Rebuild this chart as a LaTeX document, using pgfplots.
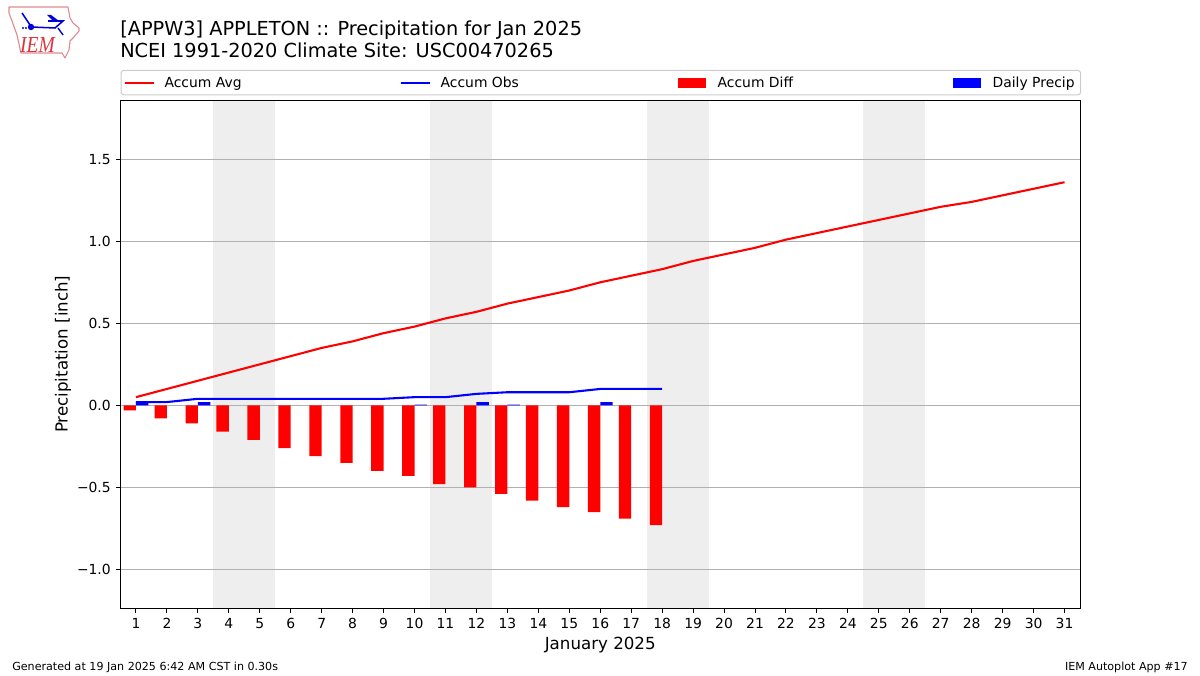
\documentclass[border=0pt]{standalone}
\usepackage{pgfplots}
\pgfplotsset{compat=1.18}
\usepackage{fontspec}
\setmainfont{DejaVu Sans}
\newfontfamily\logofont{Liberation Serif}
\definecolor{span}{HTML}{EEEEEE}
\definecolor{gridc}{HTML}{B0B0B0}
\definecolor{legc}{HTML}{CCCCCC}
\definecolor{logored}{HTML}{D9363E}
\definecolor{logopink}{HTML}{E08A8E}
\newlength{\px}\setlength{\px}{0.72bp}
\newcommand{\legtext}[3]{\makebox[#1\px][l]{\hspace*{#2\px}\raisebox{-1\px}[\height][\depth]{#3}}}
\begin{document}
\begin{tikzpicture}[x=0.72bp,y=0.72bp]
\path (0,0) rectangle (1200,675);
\begin{axis}[
  at={(120.5\px,67\px)}, anchor=south west,
  scale only axis, width=959.5\px, height=507.5\px,
  set layers=standard,
  xmin=0.5, xmax=31.5, ymin=-1.235, ymax=1.858,
  xtick={1,...,31},
  xticklabels={1,2,3,4,5,6,7,8,9,10,11,12,13,14,15,16,17,18,19,20,21,22,23,24,25,26,27,28,29,30,31},
  ytick={-1,-0.5,0,0.5,1,1.5},
  yticklabels={−1.0,−0.5,0.0,0.5,1.0,1.5},
  ymajorgrids,
  grid style={gridc, line width=0.72bp},
  tick align=outside, tick pos=left,
  major tick length=3.5bp,
  every tick/.style={black, line width=0.72bp},
  axis line style={black, line width=0.72bp},
  tick label style={font=\fontsize{10bp}{12bp}\selectfont},
  xticklabel style={yshift=-0.5\px},
  xlabel={January 2025},
  ylabel={Precipitation [inch]},
  label style={font=\fontsize{12bp}{14bp}\selectfont},
  xlabel style={at={(0.5,0)}, anchor=base, yshift=-41\px},
  ylabel style={at={(0,0.5)}, anchor=base, yshift=53\px},
  legend columns=4,
  legend style={
    at={(0,1)}, anchor=south west, yshift=5\px,
    draw=legc, line width=0.72bp, rounded corners=3\px,
    inner xsep=2.5\px, inner ysep=6\px,
    font=\fontsize{10bp}{12bp}\selectfont,
    nodes={inner sep=0pt, anchor=west},
    /tikz/column sep=0pt,
  },
]
% weekend bands
\addplot[fill=span, draw=none, forget plot, on layer=axis background] coordinates {(3.5,-1.235)(5.5,-1.235)(5.5,1.858)(3.5,1.858)} -- cycle;
\addplot[fill=span, draw=none, forget plot, on layer=axis background] coordinates {(10.5,-1.235)(12.5,-1.235)(12.5,1.858)(10.5,1.858)} -- cycle;
\addplot[fill=span, draw=none, forget plot, on layer=axis background] coordinates {(17.5,-1.235)(19.5,-1.235)(19.5,1.858)(17.5,1.858)} -- cycle;
\addplot[fill=span, draw=none, forget plot, on layer=axis background] coordinates {(24.5,-1.235)(26.5,-1.235)(26.5,1.858)(24.5,1.858)} -- cycle;
% Accum Avg
\addplot[red, line width=1.5bp, no marks, line join=round,
  legend image code/.code={\draw[red, line width=1.5bp] (0pt,0pt) -- (29\px,0pt);}]
 coordinates {(1,0.05)(2,0.10)(3,0.15)(4,0.20)(5,0.25)(6,0.30)(7,0.35)(8,0.39)(9,0.44)(10,0.48)(11,0.53)(12,0.57)(13,0.62)(14,0.66)(15,0.70)(16,0.75)(17,0.79)(18,0.83)(19,0.88)(20,0.92)(21,0.96)(22,1.01)(23,1.05)(24,1.09)(25,1.13)(26,1.17)(27,1.21)(28,1.24)(29,1.28)(30,1.32)(31,1.36)};
\addlegendentry{\legtext{245}{10}{Accum Avg}}
% Accum Obs
\addplot[blue, line width=1.5bp, no marks, line join=round,
  legend image code/.code={\draw[blue, line width=1.5bp] (0pt,0pt) -- (29\px,0pt);}]
 coordinates {(1,0.02)(2,0.02)(3,0.04)(4,0.04)(5,0.04)(6,0.04)(7,0.04)(8,0.04)(9,0.04)(10,0.05)(11,0.05)(12,0.07)(13,0.08)(14,0.08)(15,0.08)(16,0.10)(17,0.10)(18,0.10)};
\addlegendentry{\legtext{247}{10}{Accum Obs}}
% Accum Diff
\addplot[ybar, bar width=0.4, bar shift=-0.2, fill=red, draw=none,
  legend image code/.code={\fill[red, rounded corners=0pt] (0pt,-5\px) rectangle (28\px,5\px);}]
 coordinates {(1,-0.03)(2,-0.08)(3,-0.11)(4,-0.16)(5,-0.21)(6,-0.26)(7,-0.31)(8,-0.35)(9,-0.40)(10,-0.43)(11,-0.48)(12,-0.50)(13,-0.54)(14,-0.58)(15,-0.62)(16,-0.65)(17,-0.69)(18,-0.73)};
\addlegendentry{\legtext{247}{12}{Accum Diff}}
% Daily Precip
\addplot[ybar, bar width=0.4, bar shift=0.2, fill=blue, draw=none,
  legend image code/.code={\fill[blue, rounded corners=0pt] (0pt,-5\px) rectangle (28\px,5\px);}]
 coordinates {(1,0.02)(3,0.02)(10,0.005)(12,0.02)(13,0.005)(16,0.02)};
\addlegendentry{\legtext{97.5}{12}{Daily Precip}}
\end{axis}
% titles
\node[anchor=base west, inner sep=0pt, font=\fontsize{13.9bp}{17bp}\selectfont] at (120,675-36) {[APPW3] APPLETON :: Precipitation for Jan 2025};
\node[anchor=base west, inner sep=0pt, font=\fontsize{13.9bp}{17bp}\selectfont] at (120,675-58) {NCEI 1991-2020 Climate Site: USC00470265};
% footers
\node[anchor=base west, inner sep=0pt, font=\fontsize{8bp}{10bp}\selectfont] at (12,675-670) {Generated at 19 Jan 2025 6:42 AM CST in 0.30s};
\node[anchor=base east, inner sep=0pt, font=\fontsize{8bp}{10bp}\selectfont] at (1188,675-670) {IEM Autoplot App \#17};
% logo
\draw[logopink, line width=0.8bp, line join=round] (9,668) -- (68,668) -- (70,657) -- (73,652) -- (79,647) -- (79,644) -- (73,637) -- (70,634) -- (69,625) -- (65,617) -- (62,622) -- (21,622) -- (17,640) -- (12,654) -- (9,662) -- cycle;
\draw[blue!85!black, line width=1.1bp] (31,648) -- (55,647) -- (63,654) -- (48,654);
\draw[blue!85!black, line width=1.1bp] (30,650) -- (22,662);
\draw[blue!85!black, line width=1bp] (58,647) -- (63,640);
\fill[blue!85!black] (31,648) circle (3.2);
\fill[blue!85!black] (47,660) -- (51,660) -- (59,654) -- (53,654) -- cycle;
\fill[blue!85!black] (23,647) circle (1.2) (26,647) circle (1.2);
\node[anchor=base, inner sep=0pt, text=logored, xscale=0.85, font=\logofont\itshape\fontsize{16.5bp}{16.5bp}\selectfont] at (37.5,622) {IEM};
\end{tikzpicture}
\end{document}
